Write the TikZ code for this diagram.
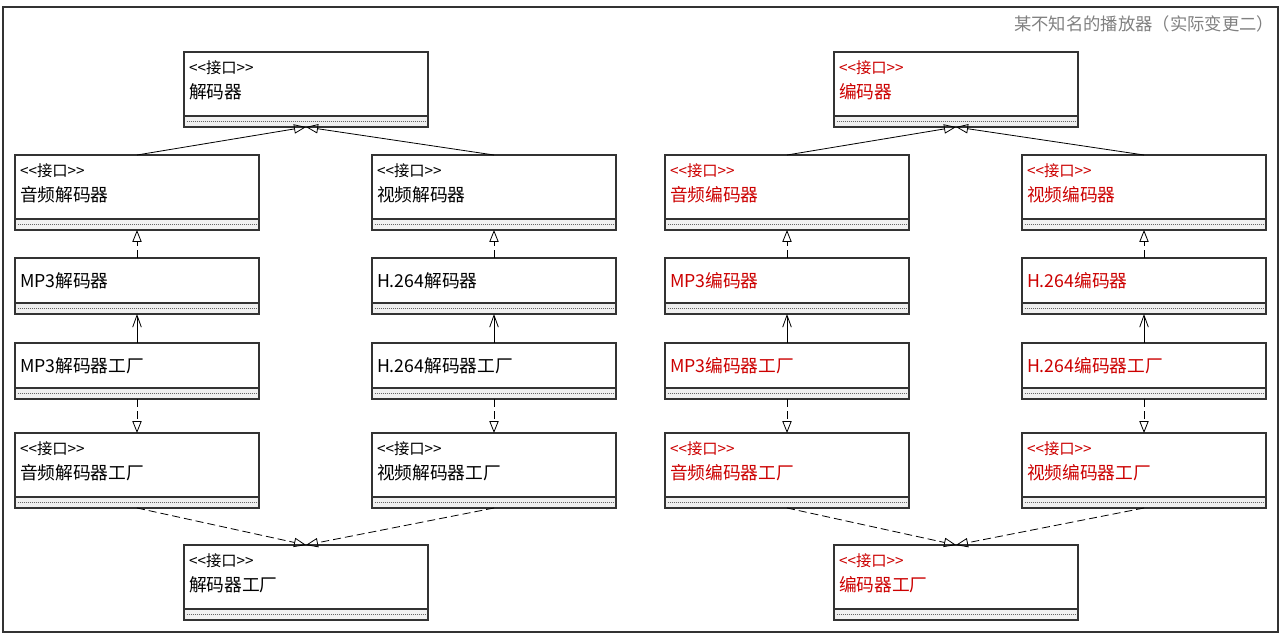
\documentclass[tikz,border=0pt]{standalone}
\usepackage{fontspec}
\newfontfamily\cjk{Noto Sans CJK SC}
\newcommand{\stfont}{\fontsize{11.5pt}{14pt}\selectfont}
\usetikzlibrary{positioning,arrows.meta}

\definecolor{boxline}{RGB}{51,51,51}
\definecolor{stripfill}{RGB}{240,240,240}
\definecolor{enc}{RGB}{204,0,0}
\definecolor{titlegray}{RGB}{128,128,128}

\begin{document}
\begin{tikzpicture}[
    x=0.75pt, y=-0.75pt,
    font=\cjk\fontsize{13.3pt}{18.75pt}\selectfont,
    classbox/.style={rectangle, draw=boxline, line width=0.9pt, fill=white, minimum width=183pt, text width=175.5pt, inner xsep=3.75pt, inner ysep=0pt, outer sep=0pt, align=left, anchor=north,
        append after command={\pgfextra{\edef\boxname{\tikzlastnode}
            \node[strip] (\boxname-s) at (\boxname.south) {};}}},
    iface/.style={classbox, minimum height=48pt, execute at end node={\rule[-6.5pt]{0pt}{6.5pt}}},
    impl/.style={classbox, minimum height=33.75pt},
    strip/.style={rectangle, draw=boxline, line width=0.9pt, fill=stripfill, minimum width=183pt, minimum height=8.25pt, inner sep=0pt, outer sep=0pt, anchor=north,
        path picture={\draw[densely dotted, line width=0.5pt, black!60] ([xshift=2pt]path picture bounding box.west) -- ([xshift=-2pt]path picture bounding box.east);}},
    extends/.style={-{Triangle[open, length=9pt, width=7pt]}, line width=0.6pt},
    realizes/.style={extends, dash pattern=on 6pt off 3pt},
    creates/.style={-{Straight Barb[length=9pt, width=6.5pt]}, line width=0.6pt},
    encoder/.style={text=enc}
]
\useasboundingbox (0,0) rectangle (1287,634);

% 外框和标题
\draw[boxline, line width=0.9pt] (3,7) rectangle (1278,632);
\node[anchor=east, text=titlegray, font=\cjk\fontsize{13pt}{16pt}\selectfont] (title) at (1279,24) {某不知名的播放器（实际变更二）};

% 解码器
\node[iface] (dec) at (306,52) {{\stfont <{}<接口>{}>}\\解码器};
\node[iface] (adec) at (137,155) {{\stfont <{}<接口>{}>}\\音频解码器};
\node[iface] (vdec) at (494,155) {{\stfont <{}<接口>{}>}\\视频解码器};
\node[impl, below=21pt of adec-s] (mp3dec) {MP3解码器};
\node[impl, below=21pt of vdec-s] (h264dec) {H.264解码器};
\node[impl, below=21.75pt of mp3dec-s] (mp3decfac) {MP3解码器工厂};
\node[impl, below=21.75pt of h264dec-s] (h264decfac) {H.264解码器工厂};
\node[iface, below=25.5pt of mp3decfac-s] (adecfac) {{\stfont <{}<接口>{}>}\\音频解码器工厂};
\node[iface, below=25.5pt of h264decfac-s] (vdecfac) {{\stfont <{}<接口>{}>}\\视频解码器工厂};
\node[iface] (decfac) at (306,545) {{\stfont <{}<接口>{}>}\\解码器工厂};

% 编码器
\node[iface, encoder] (enc) at (956,52) {{\stfont <{}<接口>{}>}\\编码器};
\node[iface, encoder] (aenc) at (787,155) {{\stfont <{}<接口>{}>}\\音频编码器};
\node[iface, encoder] (venc) at (1144,155) {{\stfont <{}<接口>{}>}\\视频编码器};
\node[impl, encoder, below=21pt of aenc-s] (mp3enc) {MP3编码器};
\node[impl, encoder, below=21pt of venc-s] (h264enc) {H.264编码器};
\node[impl, encoder, below=21.75pt of mp3enc-s] (mp3encfac) {MP3编码器工厂};
\node[impl, encoder, below=21.75pt of h264enc-s] (h264encfac) {H.264编码器工厂};
\node[iface, encoder, below=25.5pt of mp3encfac-s] (aencfac) {{\stfont <{}<接口>{}>}\\音频编码器工厂};
\node[iface, encoder, below=25.5pt of h264encfac-s] (vencfac) {{\stfont <{}<接口>{}>}\\视频编码器工厂};
\node[iface, encoder] (encfac) at (956,545) {{\stfont <{}<接口>{}>}\\编码器工厂};

% 解码器连线
\draw[extends] (adec.north) -- (dec-s.south);
\draw[extends] (vdec.north) -- (dec-s.south);
\draw[realizes] (mp3dec) -- (adec-s);
\draw[realizes] (h264dec) -- (vdec-s);
\draw[creates] (mp3decfac) -- (mp3dec-s);
\draw[creates] (h264decfac) -- (h264dec-s);
\draw[realizes] (mp3decfac-s) -- (adecfac);
\draw[realizes] (h264decfac-s) -- (vdecfac);
\draw[realizes] (adecfac-s.south) -- (decfac.north);
\draw[realizes] (vdecfac-s.south) -- (decfac.north);

% 编码器连线
\draw[extends] (aenc.north) -- (enc-s.south);
\draw[extends] (venc.north) -- (enc-s.south);
\draw[realizes] (mp3enc) -- (aenc-s);
\draw[realizes] (h264enc) -- (venc-s);
\draw[creates] (mp3encfac) -- (mp3enc-s);
\draw[creates] (h264encfac) -- (h264enc-s);
\draw[realizes] (mp3encfac-s) -- (aencfac);
\draw[realizes] (h264encfac-s) -- (vencfac);
\draw[realizes] (aencfac-s.south) -- (encfac.north);
\draw[realizes] (vencfac-s.south) -- (encfac.north);

\end{tikzpicture}
\end{document}
